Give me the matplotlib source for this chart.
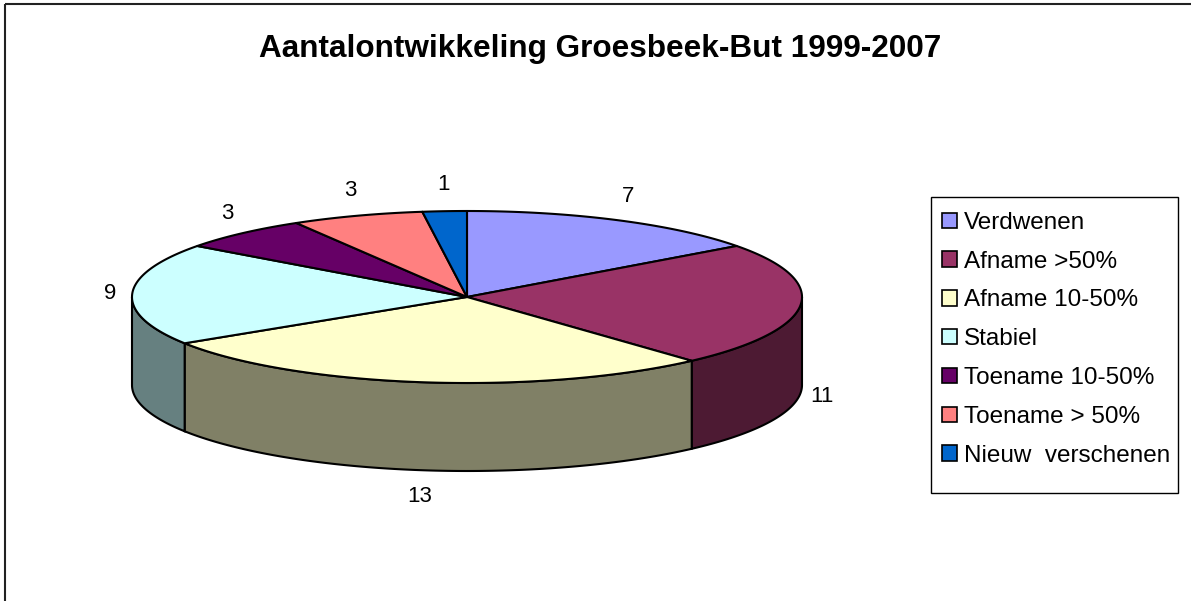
import numpy as np
import matplotlib
matplotlib.use("Agg")
import matplotlib.pyplot as plt
from matplotlib.patches import Polygon, Rectangle
import matplotlib.colors as mcolors

plt.rcParams['font.family'] = ['Liberation Sans', 'DejaVu Sans']

title = "Aantalontwikkeling Groesbeek-But 1999-2007"
categories = ["Verdwenen", "Afname >50%", "Afname 10-50%", "Stabiel",
              "Toename 10-50%", "Toename > 50%", "Nieuw  verschenen"]
values = [7, 11, 13, 9, 3, 3, 1]
colors = ["#9999FF", "#993366", "#FFFFCC", "#CCFFFF", "#660066", "#FF8080", "#0066CC"]

W, H = 1191, 601
fig = plt.figure(figsize=(W / 100, H / 100), dpi=100)
ax = fig.add_axes([0, 0, 1, 1])
ax.set_xlim(0, W)
ax.set_ylim(H, 0)
ax.axis('off')

# outer chart frame (left and top visible)
ax.plot([5, 5], [H + 5, 4], color='#222222', lw=1.5, solid_capstyle='butt')
ax.plot([5, W + 5], [4, 4], color='#222222', lw=1.5, solid_capstyle='butt')

ax.text(600, 49, title, ha='center', va='center', fontsize=22.7, fontweight='bold')

# pie geometry
cx, cy, rx, ry, depth = 467, 297, 335, 86, 88
total = sum(values)
cum = np.concatenate([[0], np.cumsum(values)])
th_start = 90 - 360 * cum[:-1] / total
th_end = 90 - 360 * cum[1:] / total


def pt(th, dy=0.0):
    r = np.radians(th)
    return cx + rx * np.cos(r), cy - ry * np.sin(r) + dy


def darker(c, f=0.5):
    r, g, b = mcolors.to_rgb(c)
    return (r * f, g * f, b * f)


LW = 1.5
# side walls (front half visible)
for v, c, t1, t2 in zip(values, colors, th_start, th_end):
    lo, hi = max(t2, -180), min(t1, 0)
    if lo < hi:
        ths = np.linspace(hi, lo, 200)
        xs, ys = pt(ths)
        top = np.column_stack([xs, ys])
        bot = np.column_stack([xs, ys + depth])[::-1]
        ax.add_patch(Polygon(np.vstack([top, bot]), closed=True, facecolor=darker(c),
                             edgecolor='black', lw=LW, zorder=2))

# top faces
for v, c, t1, t2 in zip(values, colors, th_start, th_end):
    ths = np.linspace(t1, t2, 200)
    xs, ys = pt(ths)
    poly = np.vstack([[cx, cy], np.column_stack([xs, ys])])
    ax.add_patch(Polygon(poly, closed=True, facecolor=c, edgecolor='black',
                         lw=LW, zorder=3, joinstyle='round'))

# value labels, placed just outside the rim
gx, gy = 22, 27
for v, t1, t2 in zip(values, th_start, th_end):
    m = np.radians((t1 + t2) / 2)
    x = cx + rx * np.cos(m) + gx * np.cos(m)
    y = cy - ry * np.sin(m) - gy * np.sin(m)
    if np.sin(m) < 0:
        y += depth
    ax.text(x, y, str(v), ha='center', va='center', fontsize=16, zorder=5)

# legend box (Excel style: extra room at the bottom)
ax.add_patch(Rectangle((931, 197), 247, 296, facecolor='white', edgecolor='black',
                       lw=1.0, zorder=6))
handles = [Rectangle((0, 0), 1, 1, facecolor=c, edgecolor='black', lw=1.2) for c in colors]
leg = fig.legend(handles, categories, loc='upper left',
                 bbox_to_anchor=(931 / W, 1 - 201 / H), frameon=False,
                 fontsize=17.5,
                 handlelength=0.6, handleheight=0.6, handletextpad=0.3,
                 labelspacing=0.69, borderpad=0.45, borderaxespad=0)
leg.set_zorder(7)

fig.savefig('out.png', dpi=100, facecolor='white')
